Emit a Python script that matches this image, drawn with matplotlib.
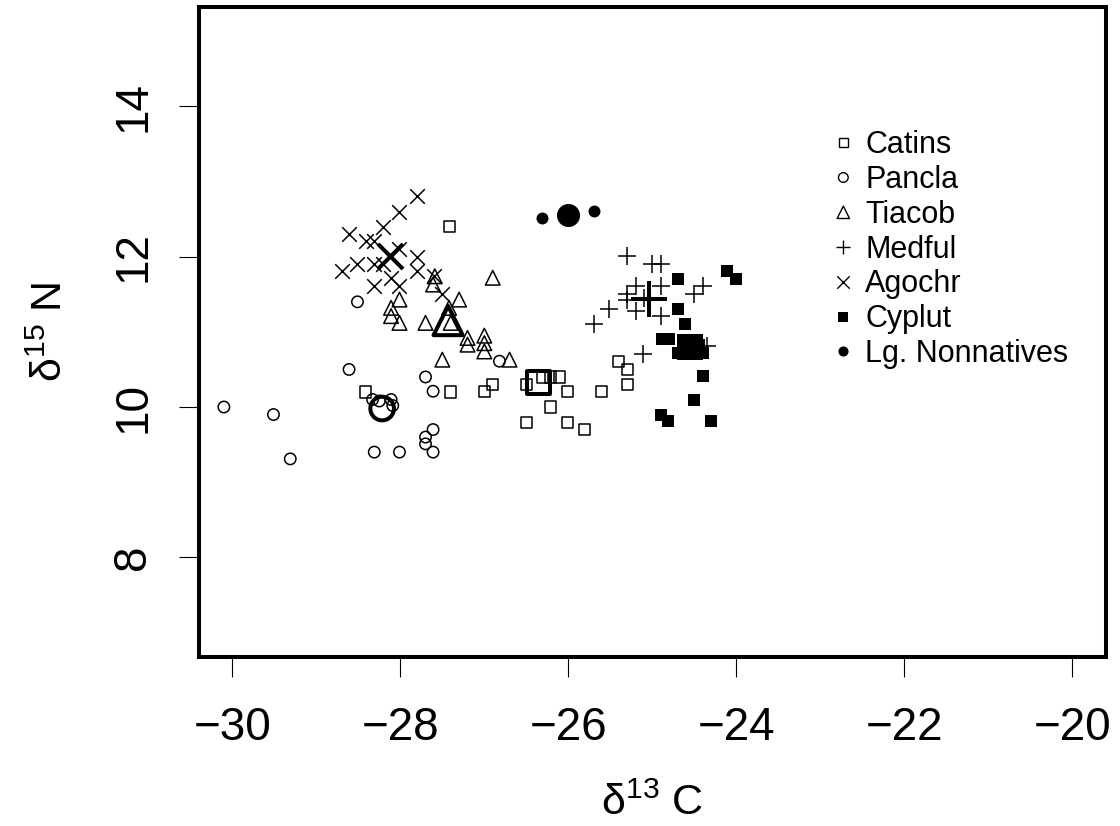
import matplotlib
matplotlib.use("Agg")
import matplotlib.pyplot as plt
import numpy as np

plt.rcParams['font.family'] = ['Liberation Sans', 'DejaVu Sans']
plt.rcParams['mathtext.fontset'] = 'custom'
plt.rcParams['mathtext.rm'] = 'Liberation Sans'
plt.rcParams['mathtext.it'] = 'Liberation Sans'
plt.rcParams['mathtext.default'] = 'regular'

# d13C (x) and d15N (y) for each species
catins_x = [-27.41, -28.41, -27.40, -27.00, -26.90, -26.50, -26.31, -26.21, -26.11,
            -26.01, -25.61, -26.21, -26.50, -26.01, -25.81, -25.40, -25.30, -25.30]
catins_y = [12.40, 10.20, 10.20, 10.21, 10.30, 10.30, 10.40, 10.40, 10.40,
            10.21, 10.21, 10.00, 9.80, 9.80, 9.70, 10.60, 10.50, 10.30]

pancla_x = [-30.10, -29.51, -29.31, -28.61, -28.51, -28.31, -28.01, -27.70, -27.61,
            -27.61, -27.70, -27.70, -27.61, -28.33, -28.25, -28.11, -28.09, -26.82]
pancla_y = [10.00, 9.90, 9.31, 10.50, 11.40, 9.40, 9.40, 10.40, 10.21,
            9.70, 9.60, 9.51, 9.40, 10.10, 10.08, 10.10, 10.02, 10.61]

tiacob_x = [-26.90, -27.59, -27.61, -27.30, -28.01, -28.11, -28.11, -28.01, -27.70,
            -27.42, -27.40, -27.20, -27.20, -27.00, -27.00, -27.00, -27.50, -26.70]
tiacob_y = [11.72, 11.74, 11.63, 11.43, 11.43, 11.32, 11.21, 11.12, 11.12,
            11.32, 11.12, 10.92, 10.83, 10.95, 10.85, 10.74, 10.63, 10.63]

medful_x = [-25.30, -25.00, -24.90, -25.20, -24.90, -25.30, -25.20, -24.90,
            -25.51, -25.70, -24.40, -24.50, -25.11, -24.35, -25.30, -25.10]
medful_y = [12.01, 11.90, 11.90, 11.61, 11.61, 11.50, 11.28, 11.21,
            11.30, 11.10, 11.61, 11.50, 10.71, 10.81, 11.42, 11.45]

agochr_x = [-28.70, -28.61, -28.51, -28.41, -28.31, -28.31, -28.31, -28.21, -28.21,
            -28.01, -28.01, -28.01, -27.80, -27.80, -27.80, -28.11, -27.50, -27.60]
agochr_y = [11.81, 12.30, 11.90, 12.21, 12.21, 11.90, 11.61, 12.40, 11.90,
            12.60, 12.10, 11.61, 12.81, 12.00, 11.81, 11.72, 11.51, 11.74]

cyplut_x = [-24.70, -24.11, -24.01, -24.70, -24.61, -24.88, -24.80, -24.64, -24.52,
            -24.70, -24.40, -24.56, -24.44, -24.40, -24.50, -24.90, -24.81, -24.30]
cyplut_y = [11.71, 11.81, 11.71, 11.31, 11.11, 10.91, 10.91, 10.88, 10.88,
            10.72, 10.72, 10.79, 10.83, 10.41, 10.10, 9.90, 9.81, 9.81]

lgnon_x = [-26.31, -25.70]
lgnon_y = [12.51, 12.61]

names = ["Catins", "Pancla", "Tiacob", "Medful", "Agochr", "Cyplut", "Lg. Nonnatives"]
xs = [catins_x, pancla_x, tiacob_x, medful_x, agochr_x, cyplut_x, lgnon_x]
ys = [catins_y, pancla_y, tiacob_y, medful_y, agochr_y, cyplut_y, lgnon_y]

# marker, filled, size (pt), big size for the mean
markers = ['s', 'o', '^', '+', 'x', 's', 'o']
filled = [False, False, False, False, False, True, True]
sizes = [8.0, 8.2, 10.5, 12.5, 10.5, 9.0, 8.6]
big_sizes = [16.5, 17.0, 21.0, 26.0, 18.0, 19.0, 16.6]


def draw(ax, x, y, m, fill, size, lw, **kw):
    if m in '+x':
        ax.scatter(x, y, s=size ** 2, marker=m, color='black', linewidths=lw, **kw)
    elif fill:
        ax.scatter(x, y, s=size ** 2, marker=m, color='black', linewidths=0, **kw)
    else:
        ax.scatter(x, y, s=size ** 2, marker=m, facecolors='none',
                   edgecolors='black', linewidths=lw, **kw)


fig = plt.figure(figsize=(11.2, 8.26), dpi=100)
ax = fig.add_axes([0.1774, 0.2052, 0.8101, 0.786])

for i in range(len(names)):
    draw(ax, xs[i], ys[i], markers[i], filled[i], sizes[i], 1.1, zorder=3)
    draw(ax, np.mean(xs[i]), np.mean(ys[i]), markers[i], filled[i], big_sizes[i], 2.9, zorder=4)

ax.set_xlim(-30.4, -19.6)
ax.set_ylim(6.68, 15.32)
ax.set_xticks([-30, -28, -26, -24, -22, -20])
ax.set_yticks([8, 10, 12, 14])

for sp in ax.spines.values():
    sp.set_linewidth(2.9)
ax.tick_params(direction='out', length=14.4, width=0.8, labelsize=33)
ax.tick_params(axis='x', pad=21)
ax.tick_params(axis='y', pad=17, labelrotation=90)
for lab in ax.get_yticklabels():
    lab.set_va('center')

# legend, drawn by hand so rows sit like the original
for i in range(len(names)):
    yy = 0.7914 - i * 0.0536
    draw(ax, 0.7105, yy, markers[i], filled[i], sizes[i] * 0.85, 1.0,
         transform=ax.transAxes, clip_on=False)
    ax.text(0.7346, yy - 0.0163, names[i], transform=ax.transAxes,
            fontsize=22, va='baseline', ha='left')

fig.text(0.582, 0.013, 'δ$^{13}$ C', fontsize=31, ha='center', va='baseline')
fig.text(0.0554, 0.598, 'δ$^{15}$ N', fontsize=31, ha='center', va='baseline',
         rotation=90, rotation_mode='anchor')

fig.savefig('out.png', dpi=100)
